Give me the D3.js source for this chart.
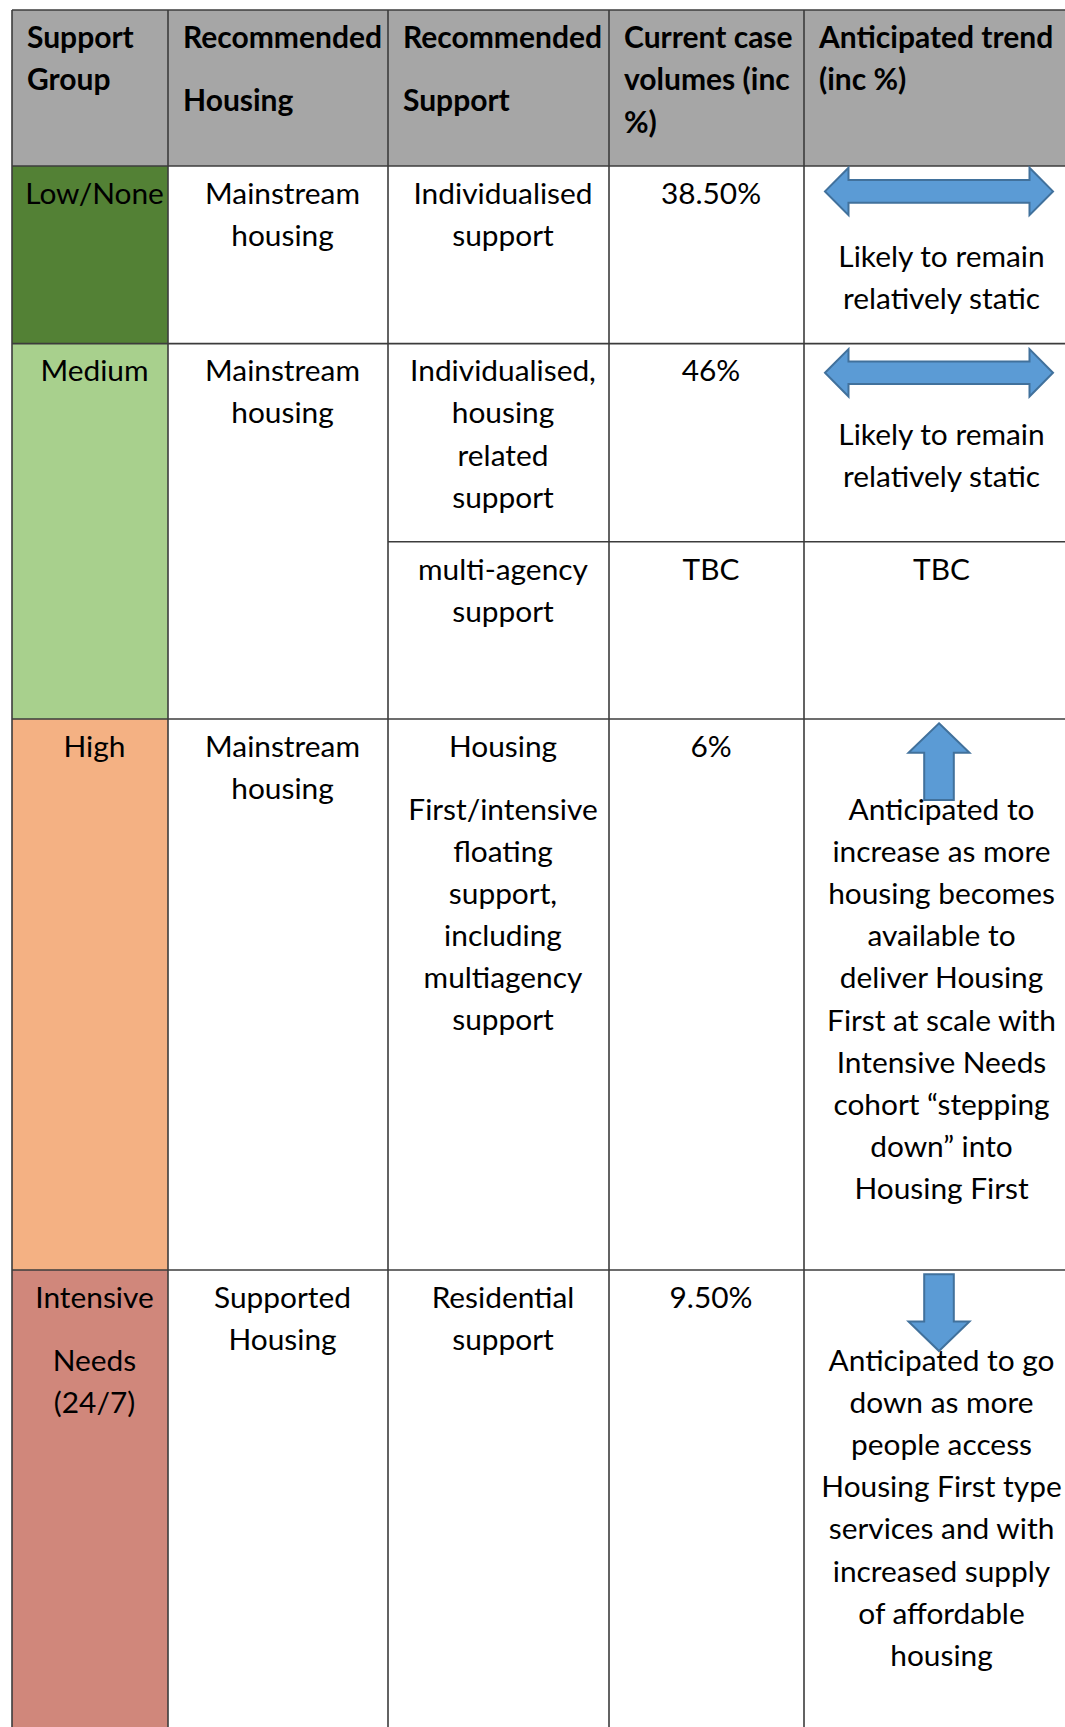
<!DOCTYPE html>
<html>
<head>
<meta charset="utf-8">
<style>
  html, body { margin: 0; padding: 0; background: #fff; }
  svg { display: block; }
</style>
</head>
<body>
<svg id="chart"></svg>
<script src="https://cdn.jsdelivr.net/npm/d3@7"></script>
<script>
// null inside a list of lines = paragraph break (extra half line)
const headers = [
  ['Support', 'Group'],
  ['Recommended', null, 'Housing'],
  ['Recommended', null, 'Support'],
  ['Current case', 'volumes (inc', '%)'],
  ['Anticipated trend', '(inc %)']
]

const groups = ['Low/None', 'Medium', 'High', 'Intensive Needs (24/7)']
const groupLines = [['Low/None'], ['Medium'], ['High'], ['Intensive', null, 'Needs', '(24/7)']]
const groupColors = ['#538135', '#a8d08d', '#f4b183', '#d0877b']
const housingLines = [
  ['Mainstream', 'housing'],
  ['Mainstream', 'housing'],
  ['Mainstream', 'housing'],
  ['Supported', 'Housing']
]

// support rows; Medium is split in two
const supportGroup = [0, 1, 1, 2, 3]
const supportLines = [
  ['Individualised', 'support'],
  ['Individualised,', 'housing', 'related', 'support'],
  ['multi-agency', 'support'],
  ['Housing', null, 'First/intensive', 'floating', 'support,', 'including', 'multiagency', 'support'],
  ['Residential', 'support']
]
const volumes = ['38.50%', '46%', 'TBC', '6%', '9.50%']
const trendArrows = ['both', 'both', null, 'up', 'down']
const trendLines = [
  ['Likely to remain', 'relatively static'],
  ['Likely to remain', 'relatively static'],
  ['TBC'],
  ['Anticipated to', 'increase as more', 'housing becomes', 'available to', 'deliver Housing',
    'First at scale with', 'Intensive Needs', 'cohort \u201cstepping', 'down\u201d into', 'Housing First'],
  ['Anticipated to go', 'down as more', 'people access', 'Housing First type', 'services and with',
    'increased supply', 'of affordable', 'housing']
]

const width = 1065
const height = 1727
const colEdges = [12, 168, 388, 609, 804, 1070]
const rowEdges = [166, 343.6, 541.8, 719, 1270, 1745]
const headerTop = 10
const lineStep = 42.1
const paraGap = 21
const firstBase = 37.7
const trendBase = 101
// double arrows: offset of the centre line; single arrows: offset of the top
const arrowOffset = [25.4, 29.2, null, 4.3, 4.3]
const font = 'Lato, "Open Sans", sans-serif'
const lineColor = '#3c3c3c'

const x = d3.scaleLinear().domain(d3.range(colEdges.length)).range(colEdges)
const y = d3.scaleLinear().domain(d3.range(rowEdges.length)).range(rowEdges)
const colMid = i => (x(i) + x(i + 1)) / 2 + 4.5

const svg = d3.select('#chart').attr('width', width).attr('height', height)

// fit font sizes so the word widths match the original Calibri text
function fitSize (word, weight, target) {
  const t = svg.append('text').attr('font-family', font).attr('font-weight', weight)
    .attr('font-size', 100).text(word)
  const w = t.node().getComputedTextLength()
  t.remove()
  return 100 * target / w
}
const bodySize = fitSize('Mainstream', 400, 155)
const headSize = fitSize('Recommended', 700, 199)

// backgrounds
svg.append('rect')
  .attr('x', x(0)).attr('y', headerTop)
  .attr('width', x(5) - x(0)).attr('height', y(0) - headerTop)
  .attr('fill', '#a6a6a6')

const groupSpan = groups.map((g, i) => {
  const rows = supportGroup.map((d, j) => d === i ? j : -1).filter(j => j >= 0)
  return [y(rows[0]), y(rows[rows.length - 1] + 1)]
})

svg.append('g')
  .selectAll('rect')
  .data(groups)
  .enter()
  .append('rect')
  .attr('x', x(0))
  .attr('y', (d, i) => groupSpan[i][0])
  .attr('width', x(1) - x(0))
  .attr('height', (d, i) => groupSpan[i][1] - groupSpan[i][0])
  .attr('fill', (d, i) => groupColors[i])

// grid lines
const grid = svg.append('g').attr('stroke', lineColor).attr('stroke-width', 1.6)
grid.append('line').attr('x1', x(0)).attr('x2', x(5)).attr('y1', headerTop).attr('y2', headerTop)
grid.append('line').attr('x1', x(0)).attr('x2', x(5)).attr('y1', y(0)).attr('y2', y(0))
groupSpan.forEach(s => {
  grid.append('line').attr('x1', x(0)).attr('x2', x(5)).attr('y1', s[1]).attr('y2', s[1])
})
supportGroup.forEach((g, j) => {
  if (j > 0 && supportGroup[j - 1] === g) {
    grid.append('line').attr('x1', x(2)).attr('x2', x(5)).attr('y1', y(j)).attr('y2', y(j))
  }
})
colEdges.forEach((c, i) => {
  grid.append('line').attr('x1', x(i)).attr('x2', x(i)).attr('y1', headerTop).attr('y2', height + 20)
})

// text helper
function cellText (lines, tx, y0, anchor, weight, size) {
  let ty = y0
  lines.forEach(l => {
    if (l === null) { ty += paraGap; return }
    svg.append('text')
      .attr('x', tx).attr('y', ty)
      .attr('text-anchor', anchor)
      .attr('font-family', font)
      .attr('font-weight', weight)
      .attr('font-size', size)
      .attr('fill', '#000')
      .text(l)
    ty += lineStep
  })
}

headers.forEach((h, i) => cellText(h, x(i) + 15, 48.3, 'start', 700, headSize))

groupLines.forEach((g, i) => {
  cellText(g, colMid(0), groupSpan[i][0] + firstBase, 'middle', 400, bodySize)
  cellText(housingLines[i], colMid(1), groupSpan[i][0] + firstBase, 'middle', 400, bodySize)
})

supportLines.forEach((s, j) => {
  const top = y(j)
  cellText(s, colMid(2), top + firstBase, 'middle', 400, bodySize)
  cellText([volumes[j]], colMid(3), top + firstBase, 'middle', 400, bodySize)
  cellText(trendLines[j], colMid(4), top + (trendArrows[j] ? trendBase : firstBase), 'middle', 400, bodySize)
})

// trend arrows
const arrowX = (x(4) + x(5)) / 2 + 2
const outline = d3.line().curve(d3.curveLinearClosed)
function arrowPoints (kind) {
  if (kind === 'both') {
    const L = 114, h = 23.5, H = 23.7, s = 11.3
    return [[-L, 0], [-L + h, -H], [-L + h, -s], [L - h, -s], [L - h, -H], [L, 0],
      [L - h, H], [L - h, s], [-L + h, s], [-L + h, H]]
  }
  const len = 76.7, h = 29.5, H = 30.5, s = 14.8
  const pts = [[0, 0], [H, h], [s, h], [s, len], [-s, len], [-s, h], [-H, h]]
  return kind === 'up' ? pts : pts.map(p => [p[0], len - p[1]])
}

svg.append('g')
  .selectAll('path')
  .data(trendArrows.map((a, j) => ({ kind: a, row: j })).filter(d => d.kind))
  .enter()
  .append('path')
  .attr('transform', d => `translate(${arrowX},${y(d.row) + arrowOffset[d.row]})`)
  .attr('d', d => outline(arrowPoints(d.kind)))
  .attr('fill', '#5b9bd5')
  .attr('stroke', '#41719c')
  .attr('stroke-width', 2)
</script>
</body>
</html>
